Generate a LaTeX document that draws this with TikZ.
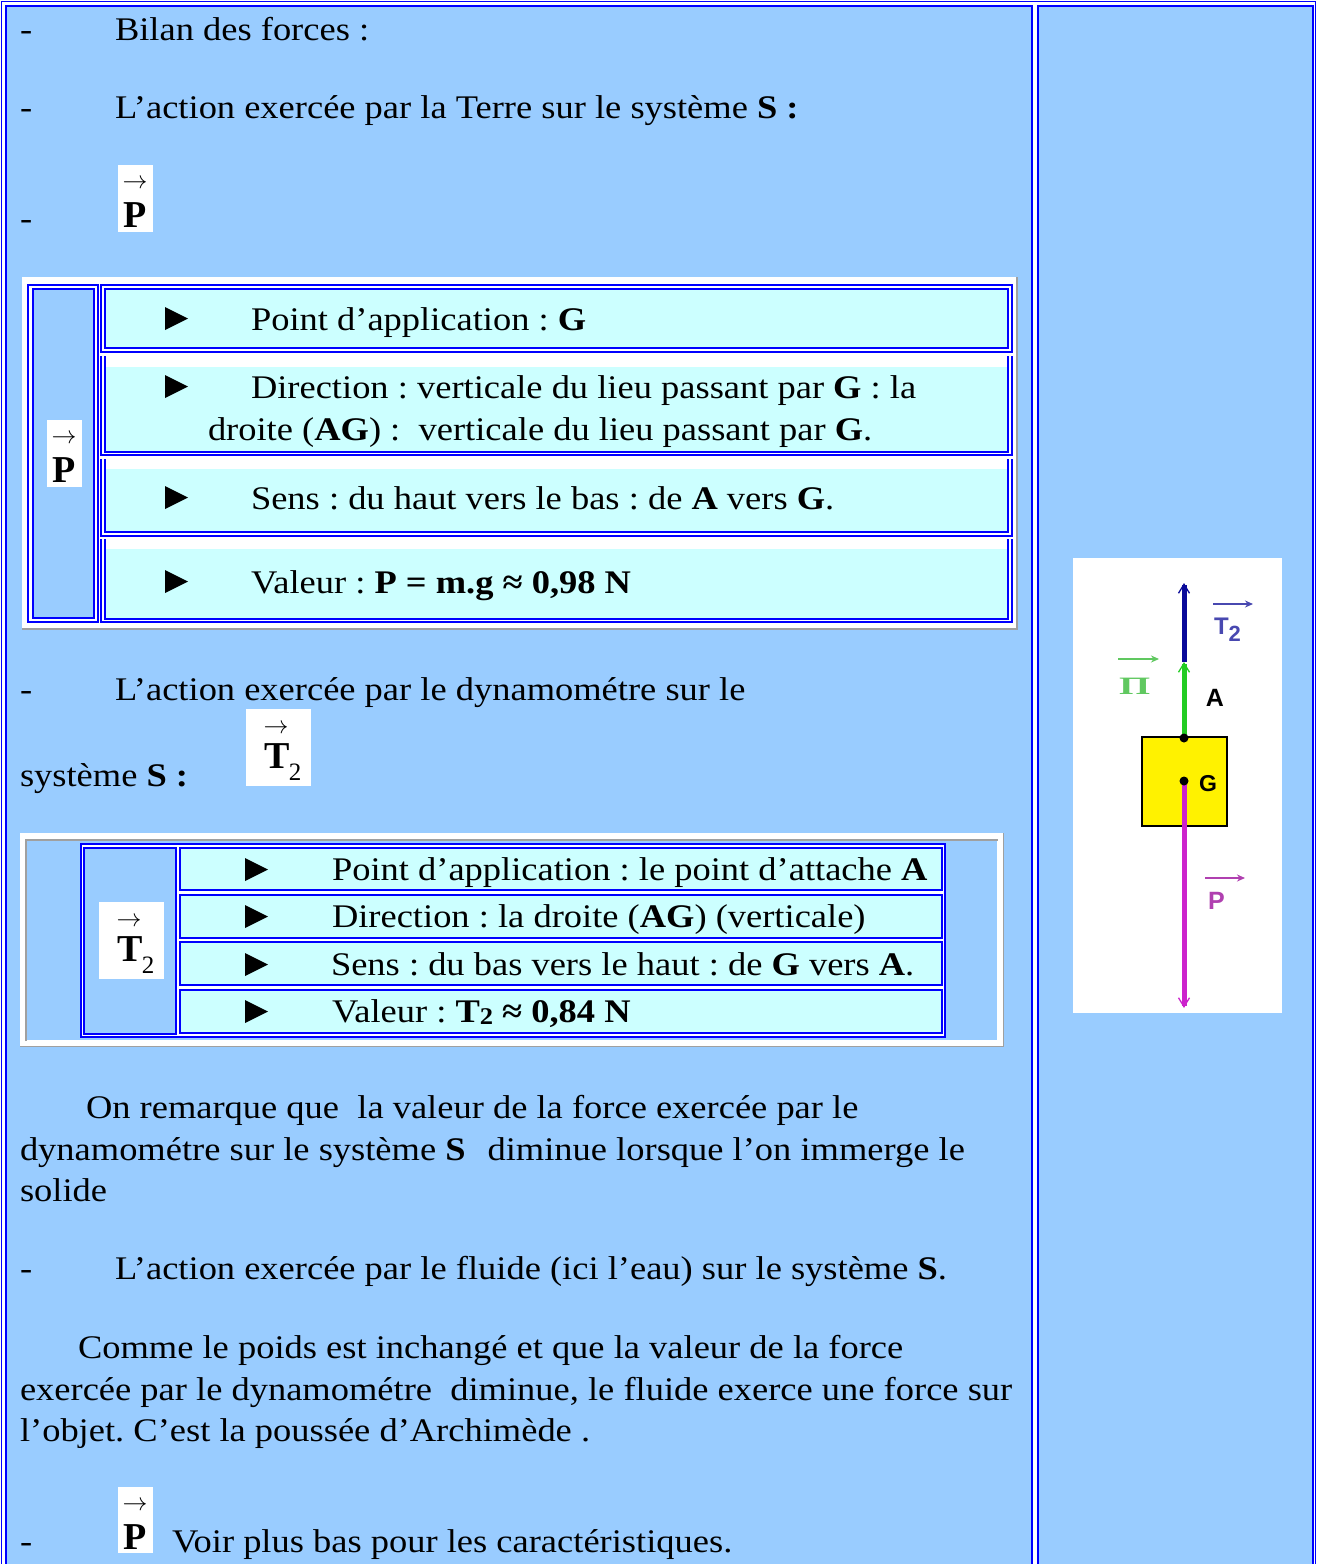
\documentclass[tikz,border=0pt]{standalone}
\usepackage{fontspec}
\usepackage{graphicx}
\setmainfont[FakeStretch=1.105]{Liberation Serif}
\newfontfamily\vecfont{Liberation Serif}
\newfontfamily\figsans{Liberation Sans}
\usetikzlibrary{arrows.meta}
\definecolor{bgblue}{HTML}{99CCFF}
\definecolor{cellcyan}{HTML}{CCFFFF}
\definecolor{bord}{HTML}{0000FF}
\definecolor{shadegray}{HTML}{A0A0A0}
\definecolor{navyarrow}{HTML}{0A0A9A}
\definecolor{greenarrow}{HTML}{22CC22}
\definecolor{magarrow}{HTML}{CC22CC}
\definecolor{tlab}{HTML}{4848B0}
\definecolor{pilab}{HTML}{60C860}
\definecolor{plab}{HTML}{B040B0}
\newcommand\mainsz{\fontsize{33}{41}\selectfont}
\newcommand\bul[2]{\fill (#1,#2) -- (#1,#2-23) -- (#1+23,#2-11.5) -- cycle;}
\frenchspacing
\begin{document}
\begin{tikzpicture}[x=1pt,y=-1pt,
  every node/.style={inner sep=0pt,outer sep=0pt},
  txt/.style={anchor=base west,font=\mainsz},
  bl/.style={draw=bord,line width=1.8pt},
  vecarrow/.style={font=\fontsize{25}{25}\selectfont},
  vecletter/.style={anchor=base,font=\vecfont\fontsize{38}{38}\selectfont\bfseries},
  vecsub/.style={anchor=base,font=\vecfont\fontsize{25}{25}\selectfont},
  force/.style={line width=5pt,-{Straight Barb[length=9pt,width=11pt,line width=1.3pt]}},
  labarrow/.style={line width=1.4pt,-{Stealth[length=8pt,width=7pt]}}]
\useasboundingbox (0,0) rectangle (1317,1564);
\clip (0,0) rectangle (1317,1564);
\fill[white] (0,0) rectangle (1317,1564);
% outer frame and cells
\draw[bord,line width=1.8pt] (1.5,1.5) rectangle (1315.5,1600);
\filldraw[fill=bgblue,bl] (6,6) rectangle (1032,1600);
\filldraw[fill=bgblue,bl] (1038,6) rectangle (1313,1600);

% top lines
\node[txt] (d1) at (20,40) {-};
\node[txt] (l1) at (115,40) {Bilan des forces :};
\node[txt] (d2) at (20,118) {-};
\node[txt] (l2) at (115,118) {L’action exercée par la Terre sur le système \textbf{S :}};
\node[txt] (d3) at (20,229) {-};
\fill[white] (118,165) rectangle (153,232);
\node[vecarrow] (pa1) at (135,184) {$\rightarrow$};
\node[vecletter] (pl1) at (135.5,227) {P};

% ---------- table 1 ----------
\fill[white] (22,277) rectangle (1018,630);
\draw[shadegray,line width=2pt] (1017,277) -- (1017,629) -- (22,629);
% P cell
\fill[bgblue] (32.7,289) rectangle (94.3,618);
\draw[bl] (27.7,285) rectangle (97.7,622);
\draw[bl] (32.7,289) rectangle (94.3,618);
\fill[white] (47,420) rectangle (82,487);
\node[vecarrow] (pa2) at (64,439) {$\rightarrow$};
\node[vecletter] (pl2) at (64.5,482) {P};
% row 1
\fill[cellcyan] (105,289) rectangle (1008,348);
\draw[bl] (101,285) rectangle (1012,352);
\draw[bl] (105,289) rectangle (1008,348);
% row 2
\fill[cellcyan] (105,367) rectangle (1008,452);
\draw[bl] (101,356) -- (101,455) -- (1012,455) -- (1012,356);
\draw[bl] (105,356) -- (105,452) -- (1008,452) -- (1008,356);
% row 3
\fill[cellcyan] (105,469) rectangle (1008,532);
\draw[bl] (101,459) -- (101,536) -- (1012,536) -- (1012,459);
\draw[bl] (105,459) -- (105,532) -- (1008,532) -- (1008,459);
% row 4
\fill[cellcyan] (105,549) rectangle (1008,619);
\draw[bl] (101,539) -- (101,622) -- (1012,622) -- (1012,539);
\draw[bl] (105,539) -- (105,619) -- (1008,619) -- (1008,539);
\bul{165}{330}
\bul{165}{398}
\bul{165}{509}
\bul{165}{593}
\node[txt] (a1) at (251,330) {Point d’application : \textbf{G}};
\node[txt] (a2) at (251,398) {Direction : verticale du lieu passant par \textbf{G} : la};
\node[txt] (a2b) at (208,440) {droite (\textbf{AG}) :\ \ verticale du lieu passant par \textbf{G}.};
\node[txt] (a3) at (251,509) {Sens : du haut vers le bas : de \textbf{A} vers \textbf{G}.};
\node[txt] (a4) at (251,593) {Valeur : \textbf{P = m.g ≈ 0,98 N}};

% dynamometre
\node[txt] (d4) at (20,700) {-};
\node[txt] (l4) at (115,700) {L’action exercée par le dynamométre sur le};
\node[txt] (l5) at (20,786) {système \textbf{S :}};
\fill[white] (246,709) rectangle (311,786);
\node[vecarrow] (ta1) at (276,729) {$\rightarrow$};
\node[vecletter] (tl1) at (277.5,768) {T};
\node[vecsub] (ts1) at (295,780) {2};

% ---------- table 2 ----------
\fill[white] (20,833) rectangle (1004,1047);
\draw[shadegray,line width=1.5pt] (26,1041) -- (26,840) -- (998,840);
\draw[shadegray,line width=1.5pt] (1003.5,833) -- (1003.5,1046.5) -- (20,1046.5);
\fill[bgblue] (27,841) rectangle (997,1040);
\filldraw[fill=white,bl] (81,844) rectangle (945,1037);
\filldraw[fill=bgblue,draw=bord,line width=1.7pt] (84,848) rectangle (176,1034);
\fill[white] (99,902) rectangle (164,979);
\node[vecarrow] (ta2) at (129,922) {$\rightarrow$};
\node[vecletter] (tl2) at (130.5,961) {T};
\node[vecsub] (ts2) at (148,973) {2};
\filldraw[fill=cellcyan,draw=bord,line width=1.7pt] (180,848) rectangle (942,890);
\filldraw[fill=cellcyan,draw=bord,line width=1.7pt] (180,895) rectangle (942,938);
\filldraw[fill=cellcyan,draw=bord,line width=1.7pt] (180,942) rectangle (942,985);
\filldraw[fill=cellcyan,draw=bord,line width=1.7pt] (180,990) rectangle (942,1033);
\bul{245}{881}
\bul{245}{928}
\bul{245}{976}
\bul{245}{1023}
\node[txt] (b1) at (332,880) {Point d’application : le point d’attache \textbf{A}};
\node[txt] (b2) at (332,927) {Direction : la droite (\textbf{AG}) (verticale)};
\node[txt] (b3) at (331,975) {Sens : du bas vers le haut : de \textbf{G} vers \textbf{A}.};
\node[txt] (b4) at (332,1022) {Valeur : \textbf{T\raisebox{-2pt}{\fontsize{24}{24}\selectfont 2} ≈ 0,84 N}};

% paragraphs
\node[txt] (p1) at (86,1118) {On remarque que\ \ la valeur de la force exercée par le};
\node[txt] (p2) at (20,1160) {dynamométre sur le système \textbf{S}\hspace{22pt}diminue lorsque l’on immerge le};
\node[txt] (p3) at (20,1201) {solide};
\node[txt] (d5) at (20,1279) {-};
\node[txt] (l6) at (115,1279) {L’action exercée par le fluide (ici l’eau) sur le système \textbf{S}.};
\node[txt] (q1) at (78,1358) {Comme le poids est inchangé et que la valeur de la force};
\node[txt] (q2) at (20,1400) {exercée par le dynamométre\ \ diminue, le fluide exerce une force sur};
\node[txt] (q3) at (20,1441) {l’objet. C’est la poussée d’Archimède .};
\node[txt] (d6) at (20,1552) {-};
\fill[white] (118,1487) rectangle (153,1553);
\node[vecarrow] (pa3) at (135,1506) {$\rightarrow$};
\node[vecletter] (pl3) at (135.5,1549) {P};
\node[txt] (l7) at (172,1552) {Voir plus bas pour les caractéristiques.};

% ---------- figure ----------
\fill[white] (1073,558) rectangle (1282,1013);
\filldraw[fill=yellow,draw=black,line width=1.5pt] (1142,737) rectangle (1227,826);
\coordinate (ftop) at (1184,583);
\coordinate (fmid) at (1184,662);
\coordinate (fA) at (1184,738);
\coordinate (fG) at (1184,781);
\coordinate (fbot) at (1184,1008);
\draw[force,navyarrow] (fmid) -- (ftop);
\draw[force,greenarrow] (fA) -- (fmid);
\draw[force,magarrow] (fG) -- (fbot);
\fill[black] (fA) circle (4.5pt);
\fill[black] (fG) circle (4.5pt);
\node[font=\figsans\bfseries\fontsize{25}{25}\selectfont,anchor=base] (labA) at (1215,706) {A};
\node[font=\figsans\bfseries\fontsize{23}{23}\selectfont,anchor=base] (labG) at (1208,791) {G};
% T2 label
\coordinate (t2s) at (1213,604);
\coordinate (t2e) at (1253,604);
\draw[labarrow,tlab] (t2s) -- (t2e);
\node[font=\figsans\bfseries\fontsize{24}{24}\selectfont,text=tlab,anchor=base west] (labT) at (1214,634) {T\raisebox{-7pt}{\fontsize{22}{22}\selectfont 2}};
% Pi label
\coordinate (pis) at (1118,659);
\coordinate (pie) at (1159,659);
\draw[labarrow,pilab] (pis) -- (pie);
\node[font=\vecfont\bfseries\fontsize{25}{25}\selectfont,text=pilab,anchor=base west] (labPi) at (1119,694) {\scalebox{1.6}[1]{Π}};
% P label
\coordinate (ps) at (1205,878);
\coordinate (pe) at (1245,878);
\draw[labarrow,plab] (ps) -- (pe);
\node[font=\figsans\bfseries\fontsize{25}{25}\selectfont,text=plab,anchor=base west] (labP) at (1208,909) {P};
\end{tikzpicture}
\end{document}
